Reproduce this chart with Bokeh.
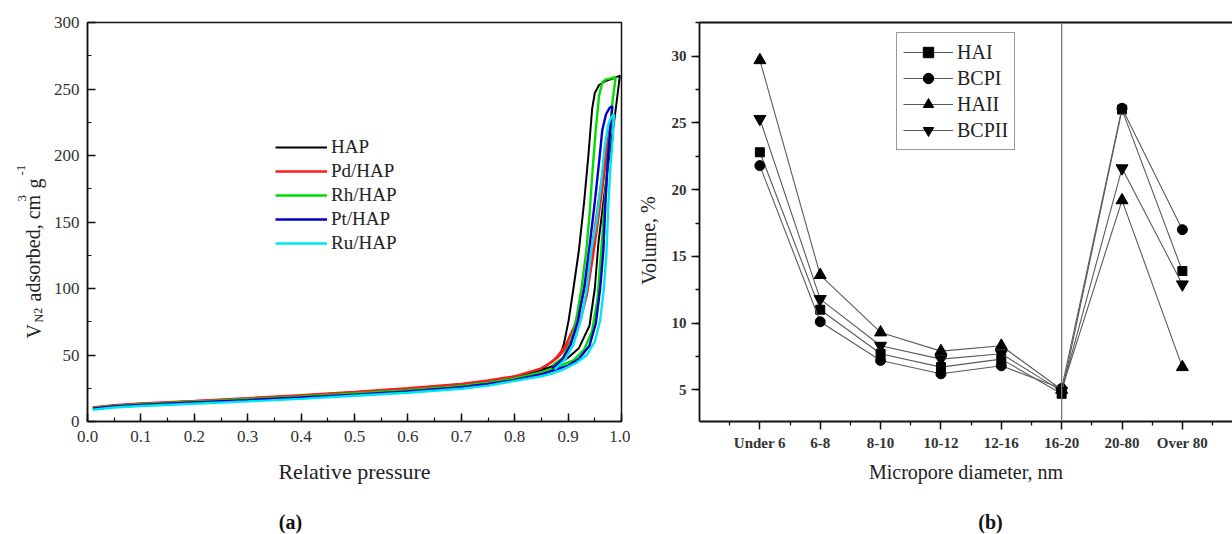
from bokeh.plotting import figure
from bokeh.layouts import row, column
from bokeh.models import (Range1d, SingleIntervalTicker, FixedTicker, PrintfTickFormatter,
                          Legend, LegendItem, Label, Span, LinearAxis)
from bokeh.embed import file_html
from bokeh.resources import INLINE

FONT = "Liberation Serif"

# ---------------- (a) N2 isotherms: adsorption + desorption branches ----------------
LOW_P = [0.01, 0.05, 0.1, 0.2, 0.3, 0.4, 0.5, 0.6, 0.7, 0.75, 0.8, 0.85]

HAP_ADS_P = LOW_P + [0.88, 0.9, 0.92, 0.94, 0.95, 0.957, 0.966, 0.976, 0.987, 0.997]
HAP_ADS_V = [10.3, 12, 13.3, 15.3, 17.3, 19.6, 22, 24.6, 28, 30.5, 33.5, 38.5,
             43, 48, 55, 72, 100, 135, 165, 196, 228, 260]
HAP_DES_P = [0.985, 0.97, 0.958, 0.950, 0.945, 0.938, 0.930, 0.920, 0.910, 0.901, 0.892, 0.885, 0.87, 0.85]
HAP_DES_V = [258, 256, 253, 247, 235, 200, 165, 128, 100, 76, 58, 50, 45, 39.5]

PD_ADS_P = LOW_P + [0.87, 0.88, 0.9, 0.92, 0.935, 0.945, 0.955, 0.965, 0.975, 0.982]
PD_ADS_V = [10.5, 12.2, 13.5, 15.5, 17.6, 19.8, 22.2, 25, 28.3, 30.8, 34, 40,
            45, 48, 57, 72, 95, 120, 148, 178, 208, 228]
PD_DES_P = [0.977, 0.968, 0.958, 0.948, 0.938, 0.926, 0.912, 0.895, 0.878, 0.86]
PD_DES_V = [218, 195, 168, 140, 115, 92, 72, 57, 48, 42]

RH_ADS_P = LOW_P + [0.88, 0.91, 0.93, 0.945, 0.955, 0.962, 0.975, 0.983, 0.989]
RH_ADS_V = [10, 11.7, 13, 14.9, 16.8, 18.8, 21, 23.5, 26.8, 29.2, 32.4, 37,
            41, 46, 54, 68, 92, 128, 200, 240, 259]
RH_DES_P = [0.98, 0.97, 0.964, 0.958, 0.952, 0.946, 0.940, 0.934, 0.925, 0.915, 0.905, 0.89, 0.87]
RH_DES_V = [258, 257, 255, 245, 220, 190, 155, 128, 100, 76, 60, 48, 42]

PT_ADS_P = LOW_P + [0.87, 0.9, 0.92, 0.94, 0.952, 0.96, 0.966, 0.97, 0.975, 0.98, 0.983]
PT_ADS_V = [9.6, 11.3, 12.5, 14.3, 16.1, 18, 20.2, 22.6, 25.8, 28.2, 31.2, 35.5,
            38, 42, 47, 57, 74, 100, 128, 165, 200, 225, 237]
PT_DES_P = [0.978, 0.971, 0.964, 0.958, 0.950, 0.939, 0.930, 0.918, 0.905, 0.89, 0.87]
PT_DES_V = [236, 231, 219, 195, 165, 128, 100, 75, 58, 47, 40]

RU_ADS_P = LOW_P + [0.87, 0.89, 0.915, 0.935, 0.95, 0.96, 0.967, 0.972, 0.975, 0.979, 0.984, 0.986]
RU_ADS_V = [8.8, 10.5, 11.7, 13.4, 15.1, 17, 19.4, 21.6, 24.6, 27, 30.5, 34,
            36, 39, 44, 50, 60, 76, 100, 128, 160, 190, 215, 231]
RU_DES_P = [0.981, 0.975, 0.968, 0.962, 0.953, 0.943, 0.935, 0.925, 0.91, 0.895, 0.875]
RU_DES_V = [229, 223, 205, 180, 150, 128, 100, 78, 58, 47, 39]

SAMPLES = ["HAP", "Pd/HAP", "Rh/HAP", "Pt/HAP", "Ru/HAP"]
COLORS_A = ["#000000", "#ff1a1a", "#00dd00", "#0000cc", "#00e6f0"]

# ---------------- (b) pore volume distribution ----------------
CATEGORIES = ["Under 6", "6-8", "8-10", "10-12", "12-16", "16-20", "20-80", "Over 80"]
HAI = [22.8, 11.0, 7.7, 6.7, 7.3, 4.7, 26.0, 13.9]
BCPI = [21.8, 10.1, 7.2, 6.2, 6.8, 5.1, 26.1, 17.0]
HAII = [29.7, 13.6, 9.3, 7.9, 8.3, 5.0, 19.2, 6.7]
BCPII = [25.3, 11.8, 8.3, 7.3, 7.7, 4.9, 21.6, 12.9]
SERIES_B = ["HAI", "BCPI", "HAII", "BCPII"]
MARKERS_B = ["square", "circle", "triangle", "inverted_triangle"]
SIZES_B = [9, 10, 12, 12]

# ---------------- layout constants (page pixels) ----------------
TOP_H = 500          # height of the row holding the two charts
BOT_H = 34           # strip holding (a) / (b)
STRIP_A_W = 48
PA_W = 582
STRIP_B_W = 35
PB_W = 1232 - STRIP_A_W - PA_W - STRIP_B_W
FRAME_TOP = 22       # page y of the top of both plot frames
FRAME_BOT = 421      # page y of the bottom of both plot frames


def text_strip(w, h, top, bottom):
    f = figure(width=w, height=h, x_range=Range1d(0, w), y_range=Range1d(0, h - top - bottom),
               output_backend="svg", toolbar_location=None, x_axis_type=None, y_axis_type=None,
               min_border=0, min_border_left=0, min_border_right=0, min_border_top=top,
               min_border_bottom=bottom)
    f.outline_line_color = None
    f.grid.visible = False
    f.border_fill_color = "white"
    f.background_fill_color = "white"
    return f


# ================= figure (a) =================
pa = figure(width=PA_W, height=TOP_H, output_backend="svg", toolbar_location=None,
            x_range=Range1d(0, 1), y_range=Range1d(0, 300),
            min_border_left=39, min_border_right=9, min_border_top=FRAME_TOP,
            min_border_bottom=TOP_H - FRAME_BOT)
pa.grid.visible = False
pa.outline_line_color = "#111111"
pa.outline_line_width = 1.5
pa.background_fill_color = "white"

series_a = [(HAP_ADS_P, HAP_ADS_V, HAP_DES_P, HAP_DES_V),
            (PD_ADS_P, PD_ADS_V, PD_DES_P, PD_DES_V),
            (RH_ADS_P, RH_ADS_V, RH_DES_P, RH_DES_V),
            (PT_ADS_P, PT_ADS_V, PT_DES_P, PT_DES_V),
            (RU_ADS_P, RU_ADS_V, RU_DES_P, RU_DES_V)]
items_a = []
for name, col, (ap, av, dp, dv) in zip(SAMPLES, COLORS_A, series_a):
    r = pa.line(ap + dp, av + dv, line_color=col, line_width=2.4 if name != "HAP" else 2.0)
    items_a.append(LegendItem(label=name, renderers=[r]))

pa.xaxis.ticker = SingleIntervalTicker(interval=0.1, num_minor_ticks=2)
pa.xaxis.formatter = PrintfTickFormatter(format="%.1f")
pa.yaxis.ticker = SingleIntervalTicker(interval=50, num_minor_ticks=2)
for ax in (pa.xaxis[0], pa.yaxis[0]):
    ax.axis_line_width = 1.5
    ax.axis_line_color = "#111111"
    ax.major_tick_line_color = "#111111"
    ax.minor_tick_line_color = "#111111"
    ax.major_tick_line_width = 1.5
    ax.minor_tick_line_width = 1.2
    ax.major_tick_in = 8
    ax.major_tick_out = 0
    ax.minor_tick_in = 4
    ax.minor_tick_out = 0
    ax.major_label_text_font = FONT
    ax.major_label_text_font_size = "17px"
    ax.major_label_text_color = "#333333"
    ax.major_label_standoff = 9
pa.yaxis.major_label_standoff = 8
pa.xaxis.axis_label = "Relative pressure"
pa.xaxis.axis_label_text_font = FONT
pa.xaxis.axis_label_text_font_size = "22px"
pa.xaxis.axis_label_text_font_style = "normal"
pa.xaxis.axis_label_text_color = "#222222"
pa.xaxis.axis_label_standoff = 14

leg_a = Legend(items=items_a, location=(188, 167), glyph_width=52, glyph_height=20,
               label_height=20, spacing=2, padding=0, margin=0, label_standoff=4,
               border_line_color=None, background_fill_alpha=0,
               label_text_font=FONT, label_text_font_size="19px", label_text_color="#222222")
pa.add_layout(leg_a)

# ================= figure (b) =================
X_POS = [i + 1 for i in range(len(CATEGORIES))]
PB_FRAME_LEFT = 34
px_per_cat = 60.36
x_end = (PB_W - PB_FRAME_LEFT) / px_per_cat
pb = figure(width=PB_W, height=TOP_H, output_backend="svg", toolbar_location=None,
            x_range=Range1d(0, x_end), y_range=Range1d(2.625, 32.525),
            min_border_left=PB_FRAME_LEFT, min_border_right=0, min_border_top=FRAME_TOP,
            min_border_bottom=TOP_H - FRAME_BOT)
pb.grid.visible = False
pb.outline_line_color = None
pb.background_fill_color = "white"

pb.add_layout(Span(location=6, dimension="height", line_color="#777777", line_width=1.3))

items_b = []
for name, vals, mk, sz in zip(SERIES_B, [HAI, BCPI, HAII, BCPII], MARKERS_B, SIZES_B):
    lr = pb.line(X_POS, vals, line_color="#5a5a5a", line_width=1.1)
    sr = pb.scatter(X_POS, vals, marker=mk, size=sz, fill_color="black", line_color="black")
    items_b.append(LegendItem(label=name, renderers=[lr, sr]))

pb.xaxis.ticker = FixedTicker(ticks=X_POS, minor_ticks=[i + 0.5 for i in range(len(CATEGORIES) + 1)])
pb.xaxis.major_label_overrides = {x: c for x, c in zip(X_POS, CATEGORIES)}
pb.yaxis.ticker = SingleIntervalTicker(interval=5, num_minor_ticks=2)
for ax in (pb.xaxis[0], pb.yaxis[0]):
    ax.axis_line_width = 1.8
    ax.axis_line_color = "#111111"
    ax.major_tick_line_color = "#111111"
    ax.minor_tick_line_color = "#111111"
    ax.major_tick_line_width = 1.5
    ax.minor_tick_line_width = 1.3
    ax.major_tick_in = 0
    ax.major_tick_out = 8
    ax.minor_tick_in = 0
    ax.minor_tick_out = 4
    ax.major_label_text_font = FONT
    ax.major_label_text_font_size = "15px"
    ax.major_label_text_font_style = "bold"
    ax.major_label_text_color = "#333333"
    ax.major_label_standoff = 5
pb.xaxis.axis_label = "Micropore diameter, nm"
pb.xaxis.axis_label_text_font = FONT
pb.xaxis.axis_label_text_font_size = "20px"
pb.xaxis.axis_label_text_font_style = "normal"
pb.xaxis.axis_label_text_color = "#222222"
pb.xaxis.axis_label_standoff = 7

top_axis = LinearAxis(ticker=FixedTicker(ticks=[]), axis_line_width=1.8, axis_line_color="#111111",
                      major_tick_in=0, major_tick_out=0, minor_tick_in=0, minor_tick_out=0)
pb.add_layout(top_axis, "above")

leg_b = Legend(items=items_b, location=(197, 271), glyph_width=50, glyph_height=26,
               label_height=26, spacing=0, padding=6, margin=0, label_standoff=4,
               border_line_color="#333333", border_line_width=1.5,
               background_fill_color="white", background_fill_alpha=1,
               label_text_font=FONT, label_text_font_size="20px", label_text_color="#222222")
pb.add_layout(leg_b)

# ================= text strips (titles outside the frames) =================
# their frames line up with the chart frames (page y FRAME_TOP..FRAME_BOT), so a label at
# page y 'py' sits at strip y = FRAME_BOT - py
strip_a = text_strip(STRIP_A_W, TOP_H, FRAME_TOP, TOP_H - FRAME_BOT)
ylabel_parts = [("V", 33, 338, "20px"), ("N2", 38, 322, "12px"),
                ("adsorbed, cm", 33, 301, "20px"), ("3", 21, 201, "13px"),
                ("g", 33, 188, "20px"), ("-1", 21, 175, "13px")]
for txt, px, py, fs in ylabel_parts:
    strip_a.add_layout(Label(x=px, y=FRAME_BOT - py, text=txt, angle=1.5708,
                             text_align="left", text_baseline="alphabetic",
                             text_font=FONT, text_font_size=fs, text_color="#222222"))

strip_b = text_strip(STRIP_B_W, TOP_H, FRAME_TOP, TOP_H - FRAME_BOT)
sb_left = STRIP_A_W + PA_W
strip_b.add_layout(Label(x=648 - sb_left, y=FRAME_BOT - 240, text="Volume, %", angle=1.5708,
                         text_align="center", text_baseline="middle", text_font=FONT,
                         text_font_size="20px", text_color="#222222"))

# bottom strip: panel letters
strip_bot = text_strip(1232, BOT_H, 0, 0)
for txt, px, py in [("(a)", 290, 521), ("(b)", 990, 521)]:
    strip_bot.add_layout(Label(x=px, y=TOP_H + BOT_H - py, text=txt, text_align="center",
                               text_baseline="middle", text_font=FONT, text_font_size="20px",
                               text_font_style="bold", text_color="#111111"))

layout = column(row(strip_a, pa, strip_b, pb), strip_bot)
open("out.html", "w").write(file_html(layout, INLINE))
